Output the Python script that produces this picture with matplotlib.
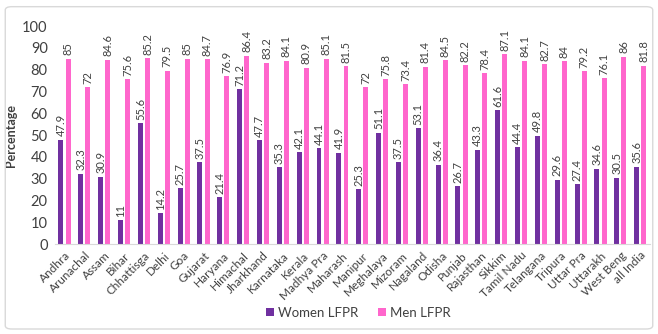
import numpy as np
import matplotlib.pyplot as plt
from matplotlib.patches import FancyBboxPatch

states = ["Andhra", "Arunachal", "Assam", "Bihar", "Chhattisga", "Delhi", "Goa",
          "Gujarat", "Haryana", "Himachal", "Jharkhand", "Karnataka", "Kerala",
          "Madhya Pra", "Maharash", "Manipur", "Meghalaya", "Mizoram", "Nagaland",
          "Odisha", "Punjab", "Rajasthan", "Sikkim", "Tamil Nadu", "Telangana",
          "Tripura", "Uttar Pra", "Uttarakh", "West Beng", "all India"]
women = [47.9, 32.3, 30.9, 11, 55.6, 14.2, 25.7, 37.5, 21.4, 71.2, 47.7, 35.3, 42.1,
         44.1, 41.9, 25.3, 51.1, 37.5, 53.1, 36.4, 26.7, 43.3, 61.6, 44.4, 49.8,
         29.6, 27.4, 34.6, 30.5, 35.6]
men = [85, 72, 84.6, 75.6, 85.2, 79.5, 85, 84.7, 76.9, 86.4, 83.2, 84.1, 80.9,
       85.1, 81.5, 72, 75.8, 73.4, 81.4, 84.5, 82.2, 78.4, 87.1, 84.1, 82.7,
       84, 79.2, 76.1, 86, 81.8]

plt.rcParams['font.family'] = ['Lato', 'DejaVu Sans']

fig = plt.figure(figsize=(6.58, 3.34), dpi=100)
ax = fig.add_axes([0.083, 0.269, 0.905, 0.653])

x = np.arange(len(states))
w = 0.25
off = 0.18
b1 = ax.bar(x - off, women, w, color="#7030A0", label="Women LFPR")
b2 = ax.bar(x + off, men, w, color="#FF66CC", label="Men LFPR")

def fmt(v):
    return f"{v:g}"

for bars, vals in [(b1, women), (b2, men)]:
    for bar, v in zip(bars, vals):
        ax.text(bar.get_x() + bar.get_width() / 2, v + 1.5, fmt(v),
                rotation=90, ha="center", va="bottom", fontsize=8, color="#404040")

ax.set_xlim(-0.5, len(states) - 0.5)
ax.set_ylim(0, 100)
ax.set_yticks(range(0, 101, 10))
ax.tick_params(axis="y", length=0, labelsize=10.5, colors="#404040", pad=5)
ax.tick_params(axis="x", length=0, pad=4)
ax.set_xticks(x)
ax.set_xticklabels(states, rotation=45, ha="right", rotation_mode="anchor",
                   fontsize=8.5, color="#404040")
for s in ["top", "right", "left"]:
    ax.spines[s].set_visible(False)
ax.spines["bottom"].set_color("#d9d9d9")
ax.set_ylabel("Percentage", fontsize=9, fontweight="bold", color="#404040", labelpad=4)

fig.legend(loc="lower center", bbox_to_anchor=(0.545, 0.01), ncol=2, frameon=False,
           fontsize=9.5, handlelength=0.6, handleheight=0.6, handletextpad=0.3,
           columnspacing=1.5, labelcolor="#404040")

border = FancyBboxPatch((0.008, 0.015), 0.984, 0.965, boxstyle="round,pad=0,rounding_size=0.01",
                        transform=fig.transFigure, fill=False, edgecolor="#d9d9d9", lw=1)
fig.patches.append(border)

fig.savefig("out.png", dpi=100)
